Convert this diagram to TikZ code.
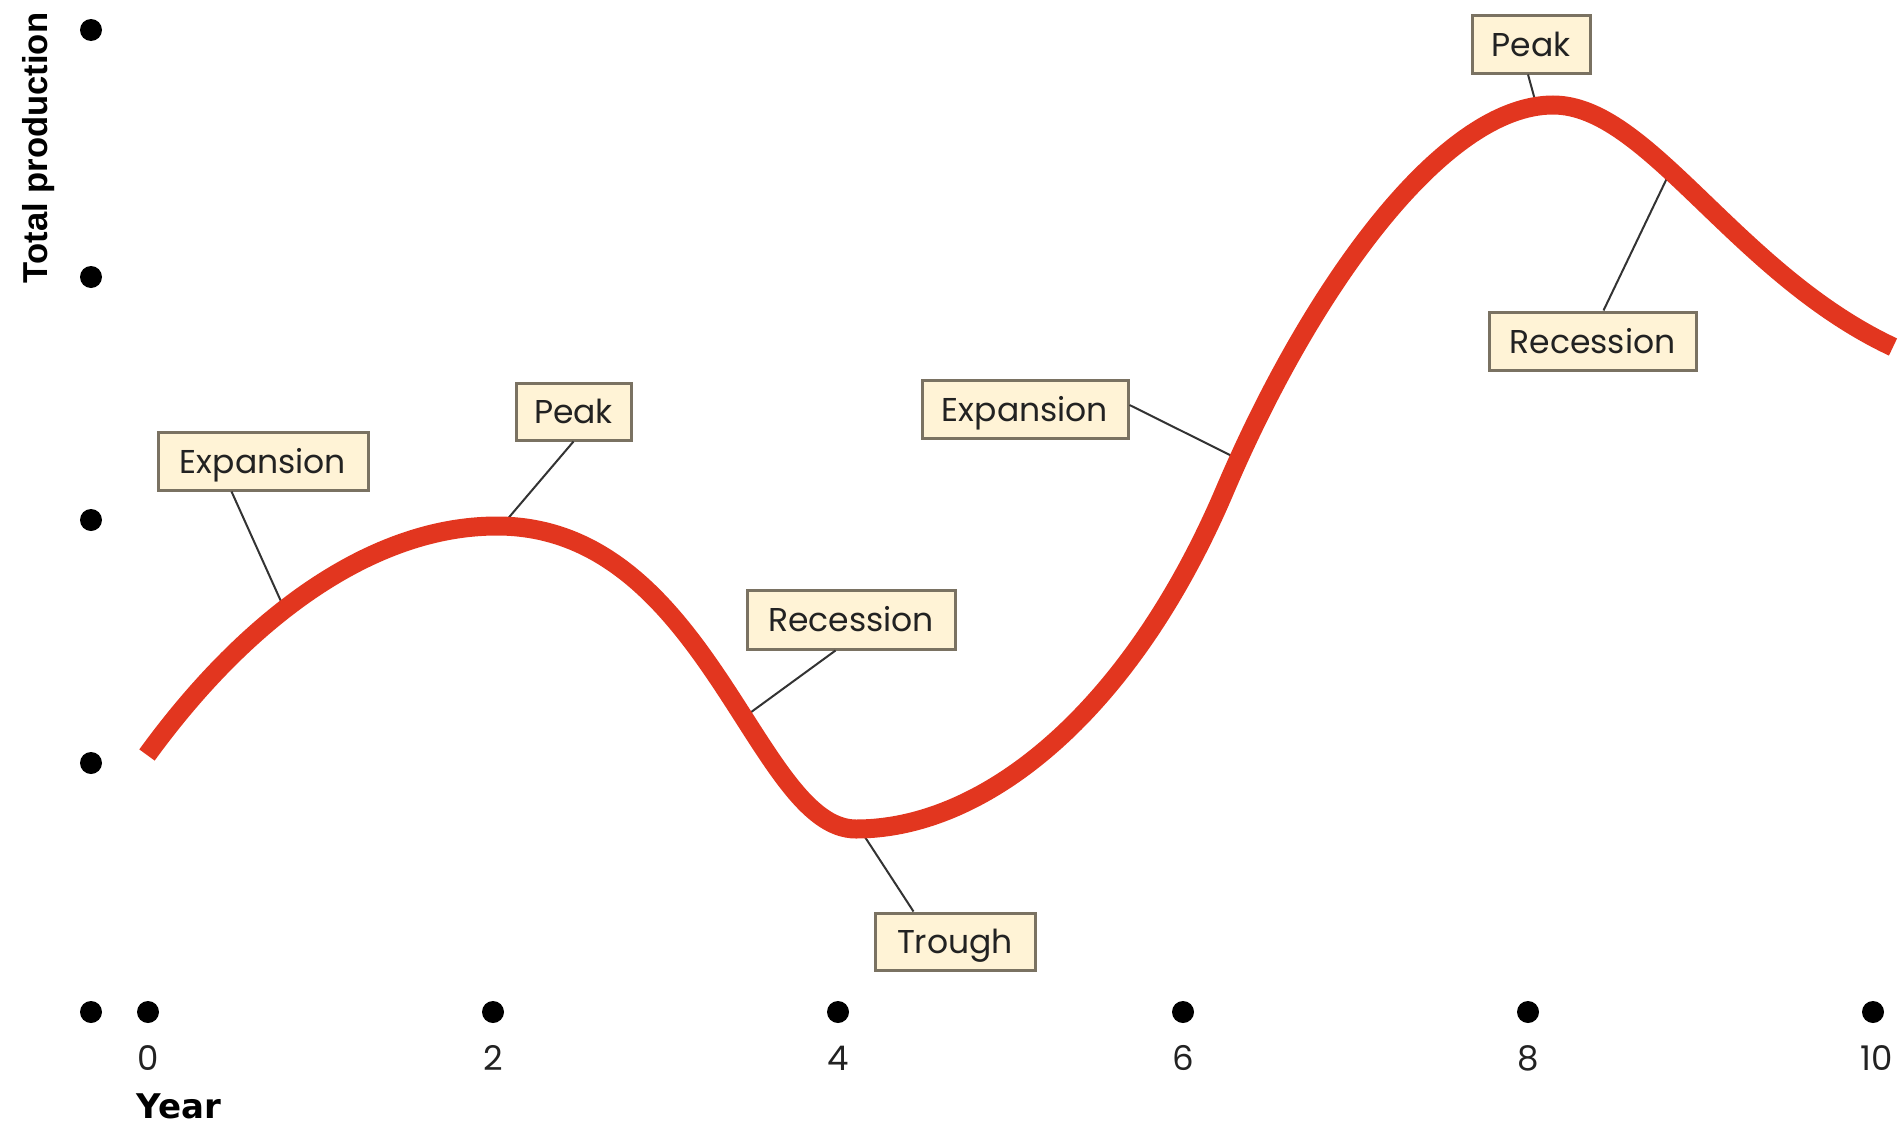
\documentclass[tikz,border=0pt]{standalone}
\usepackage{fontspec}
\newfontfamily\labfont{Poppins}
\newfontfamily\axfont{Liberation Sans}
\newfontfamily\yrfont{DejaVu Sans}
\definecolor{curvered}{HTML}{E2361F}
\definecolor{cream}{HTML}{FFF3D6}
\definecolor{boxline}{HTML}{7A7262}
\definecolor{conncol}{HTML}{333333}
\definecolor{labtext}{HTML}{222222}
\begin{document}
\begin{tikzpicture}[x=0.5pt,y=-0.5pt,
  lab/.style={draw=boxline, line width=1.5pt, fill=cream, inner sep=0pt,
    text height=12pt, text depth=0pt, text=labtext,
    font=\labfont\fontsize{16.5}{18}\selectfont},
  conn/.style={draw=conncol, line width=1pt},
  dot/.style={circle, fill=black, inner sep=0pt, minimum size=11pt},
  tick/.style={anchor=base, font=\labfont\fontsize{17}{18}\selectfont, text=labtext},
  curve/.style={draw=curvered, line width=9.5pt}]
\useasboundingbox (0,0) rectangle (1902,1124);

% axis dots
\node[dot] (o) at (91,1012) {};
\node[dot] (ya) at (91,763) {};
\node[dot] (yb) at (91,520) {};
\node[dot] (yc) at (91,277) {};
\node[dot] (yd) at (91,30) {};
\node[dot] (x0) at (148,1012) {};
\node[dot] (x2) at (493,1012) {};
\node[dot] (x4) at (838,1012) {};
\node[dot] (x6) at (1183,1012) {};
\node[dot] (x8) at (1528,1012) {};
\node[dot] (x10) at (1873,1012) {};

% tick labels
\node[tick] (t0) at (148,1070) {0};
\node[tick] (t2) at (493,1070) {2};
\node[tick] (t4) at (838,1070) {4};
\node[tick] (t6) at (1183,1070) {6};
\node[tick] (t8) at (1528,1070) {8};
\node[tick, anchor=base west, inner sep=0pt] (t10) at (1860,1070) {10};

% axis titles
\node[anchor=base, inner sep=0pt, font=\yrfont\bfseries\fontsize{17}{18}\selectfont] (year) at (179,1118) {Year};
\node[anchor=base, inner sep=0pt, rotate=90, font=\axfont\bfseries\fontsize{17.3}{18}\selectfont] (tp) at (47,148) {Total production};

% label boxes
\node[lab, minimum width=105pt, minimum height=29pt] (b1) at (263,461) {Expansion};
\node[lab, minimum width=57.5pt, minimum height=28.5pt] (b2) at (573.5,411.5) {Peak};
\node[lab, minimum width=104pt, minimum height=29.5pt] (b3) at (851,619.5) {Recession};
\node[lab, minimum width=80pt, minimum height=28.5pt] (b4) at (955,941.5) {Trough};
\node[lab, minimum width=103pt, minimum height=29pt] (b5) at (1025,409) {Expansion};
\node[lab, minimum width=59pt, minimum height=29pt] (b6) at (1531,44) {Peak};
\node[lab, minimum width=103.5pt, minimum height=29pt] (b7) at (1592.5,341) {Recession};

% points on the curve
\coordinate (c1) at (284,608);
\coordinate (c2) at (505,522);
\coordinate (c3) at (743,718);
\coordinate (c4) at (863,834);
\coordinate (c5) at (1236,458);
\coordinate (c6) at (1535,100);
\coordinate (c7) at (1668,176);

% connectors
\draw[conn] ([xshift=37.5pt]b1.south west) -- (c1);
\draw[conn] (b2.south) -- (c2);
\draw[conn] ([xshift=45pt]b3.south west) -- (c3);
\draw[conn] ([xshift=20pt]b4.north west) -- (c4);
\draw[conn] ([yshift=2pt]b5.east) -- (c5);
\draw[conn] ([xshift=-1.5pt]b6.south) -- (c6);
\draw[conn] ([xshift=58pt]b7.north west) -- (c7);

% business cycle curve
\draw[curve] (147,755) .. controls (245,620) and (370,526) .. (497,526)
  .. controls (707,526) and (756,829) .. (856,829)
  .. controls (986,829) and (1131,711) .. (1225,490)
  .. controls (1311,288) and (1443,105) .. (1553,105)
  .. controls (1648,105) and (1735,273) .. (1893,347);
\end{tikzpicture}
\end{document}
